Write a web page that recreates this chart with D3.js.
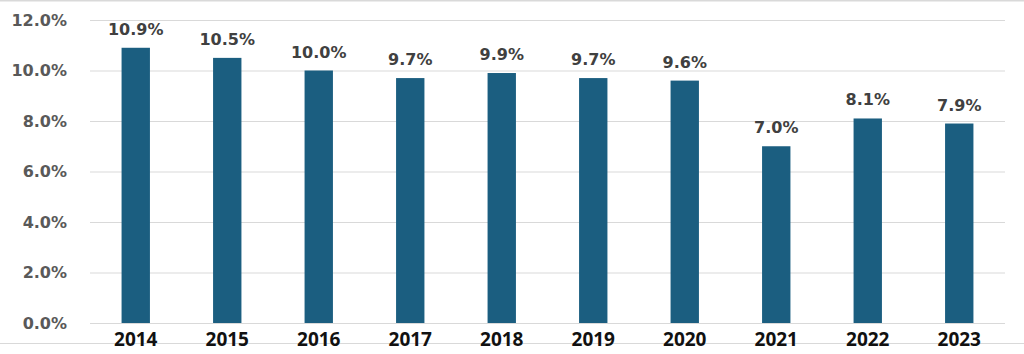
<!DOCTYPE html>
<html><head><meta charset="utf-8">
<script src="https://cdn.jsdelivr.net/npm/d3@7"></script>
<style>html,body{margin:0;padding:0;background:#fff;}svg{display:block;}</style>
</head><body>
<svg id="chart" width="1024" height="354"></svg>
<script>
const years = ["2014","2015","2016","2017","2018","2019","2020","2021","2022","2023"];
const rates = [10.9, 10.5, 10.0, 9.7, 9.9, 9.7, 9.6, 7.0, 8.1, 7.9];
const yTicks = [0, 2, 4, 6, 8, 10, 12];

const svg = d3.select("#chart");
const W = 1024, H = 354;
const m = {left: 90, right: 19, top: 20, bottom: 31};

// frame lines
svg.append("line").attr("x1",0).attr("x2",W).attr("y1",0.5).attr("y2",0.5).attr("stroke","#d9d9d9").attr("stroke-width",2);
svg.append("line").attr("x1",0).attr("x2",W).attr("y1",343.5).attr("y2",343.5).attr("stroke","#d9d9d9").attr("stroke-width",1);

const x = d3.scaleBand().domain(years).range([m.left, W - m.right]).paddingInner(0.69).paddingOuter(0.345);
const y = d3.scaleLinear().domain([0, 12]).range([H - m.bottom, m.top]);

const yAxis = d3.axisLeft(y).tickValues(yTicks).tickSize(-(W - m.right - m.left)).tickFormat(d => d.toFixed(1) + "%").tickPadding(23);
const gy = svg.append("g").attr("transform", `translate(${m.left},0)`).call(yAxis);
gy.select(".domain").remove();
gy.selectAll(".tick line").attr("stroke", "#d9d9d9").attr("stroke-width", 1);
gy.selectAll(".tick text").attr("fill", "#595959").style("font-family", "DejaVu Sans").style("font-weight", "bold").style("font-size", "16px");

svg.append("g").selectAll("rect").data(rates).join("rect")
  .attr("x", (d, i) => x(years[i]))
  .attr("width", x.bandwidth())
  .attr("y", d => y(d))
  .attr("height", d => y(0) - y(d))
  .attr("fill", "#1b5e80");

svg.append("g").selectAll("text").data(rates).join("text")
  .attr("x", (d, i) => x(years[i]) + x.bandwidth() / 2)
  .attr("y", d => y(d) - 13)
  .attr("text-anchor", "middle")
  .attr("fill", "#404040")
  .style("font-family", "DejaVu Sans").style("font-weight", "bold").style("font-size", "16px")
  .text(d => d.toFixed(1) + "%");

const xAxis = d3.axisBottom(x).tickSize(0).tickPadding(10);
const gx = svg.append("g").attr("transform", `translate(0,${H - m.bottom})`).call(xAxis);
gx.select(".domain").remove();
gx.selectAll(".tick text").attr("fill", "#111").style("font-family", "Open Sans").style("font-weight", "bold").style("font-size", "19px");
</script>
</body></html>
